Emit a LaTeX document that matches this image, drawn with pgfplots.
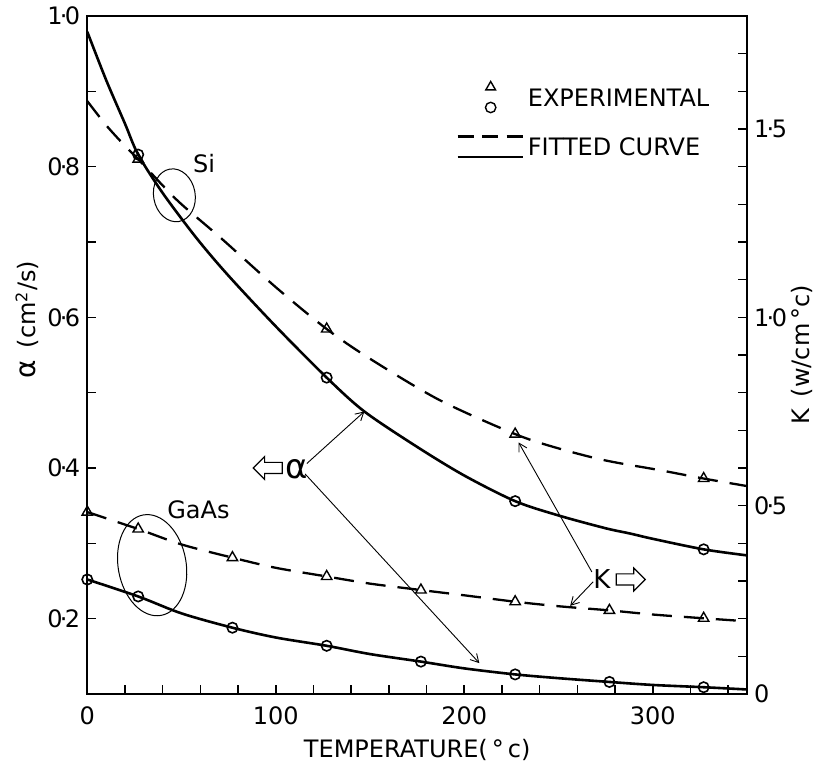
\documentclass[border=0pt]{standalone}
\usepackage{pgfplots}
\pgfplotsset{compat=1.18}
\usepackage{fontspec}
\setmainfont{DejaVu Sans}
\usetikzlibrary{shapes.arrows,shapes.geometric,arrows.meta}
\newcommand{\dd}[2]{#1\kern-1.3pt·\kern-1.3pt#2}

\begin{document}
\begin{tikzpicture}[font=\fontsize{12}{14}\selectfont]
\path[use as bounding box] (-43.65pt,-36pt) rectangle (363.85pt,347pt);
\begin{axis}[
  width=329.85pt, height=339pt, scale only axis,
  xmin=0, xmax=350, ymin=0.1, ymax=1.0,
  axis line style={line width=0.9pt},
  xtick={0,100,200,300},
  minor xtick={20,40,60,80,120,140,160,180,220,240,260,280,320,340},
  xticklabels={0,100,200,300},
  ytick={0.2,0.4,0.6,0.8,1.0},
  minor ytick={0.3,0.5,0.7,0.9},
  yticklabels={\dd02,\dd04,\dd06,\dd08,\dd10},
  xtick pos=left, ytick pos=left,
  tick align=inside,
  major tick length=4.5pt, minor tick length=4.5pt,
  every tick/.style={line width=0.8pt, black},
  xticklabel style={yshift=-3pt},
  xlabel={TEMPERATURE(\,°\,c)},
  xlabel style={at={(axis description cs:0.5,-0.082)}, anchor=center},
  ylabel={{\fontsize{14}{14}\selectfont α}\enspace(cm\textsuperscript{2}/s)},
  ylabel style={at={(axis description cs:-0.091,0.552)}, anchor=center},
]
% Si thermal diffusivity, fitted curve
\addplot[line width=1.3pt, smooth, tension=0.5] coordinates {
(0,0.979)(10,0.915)(20,0.857)(27,0.816)(40,0.765)(58,0.705)(75,0.655)(100,0.588)
(127,0.520)(147,0.475)(175,0.428)(200,0.390)(227,0.356)(250,0.337)(275,0.320)
(288,0.313)(300,0.306)(327,0.292)(350,0.284)};
% GaAs thermal diffusivity, fitted curve
\addplot[line width=1.3pt, smooth, tension=0.5] coordinates {
(0,0.252)(27,0.2295)(50,0.207)(77,0.188)(100,0.175)(127,0.164)(150,0.153)(177,0.143)
(200,0.134)(227,0.126)(250,0.121)(277,0.116)(300,0.112)(327,0.109)(350,0.106)};
% experimental points
\addplot[only marks, mark=o, mark size=2.6pt, mark options={fill=white, line width=0.8pt}] coordinates {
(27,0.816)(127,0.520)(227,0.356)(327,0.292)};
\addplot[only marks, mark=o, mark size=2.6pt, mark options={fill=white, line width=0.8pt}] coordinates {
(0,0.252)(27,0.2295)(77,0.188)(127,0.164)(177,0.143)(227,0.126)(277,0.116)(327,0.109)};

% annotations
\node at (axis cs:62,0.804) {Si};
\node[draw, ellipse, line width=0.5pt, minimum width=20.8pt, minimum height=26.6pt, inner sep=0pt, rotate=10] at (axis cs:46.2,0.762) {};
\node at (axis cs:59,0.344) {GaAs};
\node[draw, ellipse, line width=0.5pt, minimum width=34pt, minimum height=51pt, inner sep=0pt, rotate=10] at (axis cs:34.4,0.271) {};
\node[font=\fontsize{17}{17}\selectfont, inner sep=0pt] at (axis cs:111,0.399) {α};
\node[draw, single arrow, shape border rotate=180, minimum height=14.5pt, minimum width=10.8pt,
      single arrow head extend=2.9pt, inner sep=2.5pt, line width=0.6pt] at (axis cs:97.2,0.40) {};
\node[inner sep=0pt, font=\fontsize{13}{13}\selectfont] at (axis cs:273,0.252) {K};
\node[draw, single arrow, minimum height=14.5pt, minimum width=10.8pt,
      single arrow head extend=2.9pt, inner sep=2.5pt, line width=0.6pt] at (axis cs:286.8,0.252) {};
\draw[line width=0.45pt, -{Straight Barb[length=4pt,width=4.5pt]}] (axis cs:116.5,0.406) -- (axis cs:147,0.475);
\draw[line width=0.45pt, -{Straight Barb[length=4pt,width=4.5pt]}] (axis cs:115.6,0.392) -- (axis cs:208,0.141);
\draw[line width=0.45pt, -{Straight Barb[length=4pt,width=4.5pt]}] (axis cs:267.7,0.262) -- (axis cs:228.8,0.434);
\draw[line width=0.45pt, -{Straight Barb[length=4pt,width=4.5pt]}] (axis cs:268.4,0.249) -- (axis cs:256.2,0.217);
\end{axis}

\begin{axis}[
  width=329.85pt, height=339pt, scale only axis,
  xmin=0, xmax=350, ymin=0, ymax=1.8,
  hide x axis,
  axis y line*=right,
  axis line style={line width=0.9pt},
  ytick={0,0.5,1.0,1.5},
  minor ytick={0.1,0.2,0.3,0.4,0.6,0.7,0.8,0.9,1.1,1.2,1.3,1.4,1.6,1.7},
  yticklabels={0,\dd05,\dd10,\dd15},
  tick align=inside,
  major tick length=4.5pt, minor tick length=4.5pt,
  every tick/.style={line width=0.8pt, black},
  ylabel={K\enspace(w/cm\,°c)},
  ylabel style={at={(axis description cs:1.0834,0.5)}, anchor=center},
  legend style={draw=none, fill=none, at={(0.559,0.904)}, anchor=north west,
    inner sep=0pt, nodes={inner sep=2pt}, row sep=8.3pt, font=\fontsize{12}{14}\selectfont},
  legend cell align=left,
]
% Si thermal conductivity, fitted curve
\addplot[forget plot, line width=1.15pt, dash pattern=on 10pt off 6pt, smooth, tension=0.5] coordinates {
(0,1.574)(10,1.51)(20,1.455)(27,1.42)(40,1.35)(50,1.30)(71,1.21)(100,1.08)(127,0.969)
(150,0.89)(187,0.78)(227,0.69)(250,0.652)(275,0.62)(304,0.594)(327,0.572)(350,0.552)};
% GaAs thermal conductivity, fitted curve
\addplot[forget plot, line width=1.15pt, dash pattern=on 10pt off 6pt, smooth, tension=0.5] coordinates {
(0,0.483)(27,0.438)(50,0.397)(77,0.362)(100,0.335)(127,0.312)(150,0.293)(177,0.276)
(200,0.262)(227,0.245)(250,0.233)(277,0.222)(300,0.211)(327,0.201)(350,0.193)};
\addplot[forget plot, only marks, mark=triangle, mark size=3pt, mark options={fill=white, line width=0.7pt}] coordinates {
(27,1.42)(127,0.969)(227,0.69)(327,0.572)};
\addplot[forget plot, only marks, mark=triangle, mark size=3pt, mark options={fill=white, line width=0.7pt}] coordinates {
(0,0.483)(27,0.438)(77,0.362)(127,0.312)(177,0.276)(227,0.245)(277,0.222)(327,0.201)};
\addlegendimage{legend image code/.code={
  \path[draw=none, fill=none] (0pt,-8pt) rectangle (32.5pt,8pt);
  \draw[line width=0.7pt, fill=white, solid] plot[only marks, mark=triangle, mark size=2.8pt] coordinates {(16.5pt,6.0pt)};
  \draw[line width=0.7pt, fill=white, solid] plot[only marks, mark=o, mark size=2.6pt] coordinates {(16.5pt,-4.2pt)};
}}
\addlegendentry{EXPERIMENTAL}
\addlegendimage{legend image code/.code={
  \path[draw=none, fill=none] (0pt,-8pt) rectangle (32.5pt,8pt);
  \draw[line width=1.1pt, dash pattern=on 8pt off 4.25pt] (0pt,5.6pt) -- (32.5pt,5.6pt);
  \draw[line width=1.2pt, solid] (0pt,-4.7pt) -- (32.5pt,-4.7pt);
}}
\addlegendentry{FITTED CURVE}
\end{axis}
\end{tikzpicture}
\end{document}
